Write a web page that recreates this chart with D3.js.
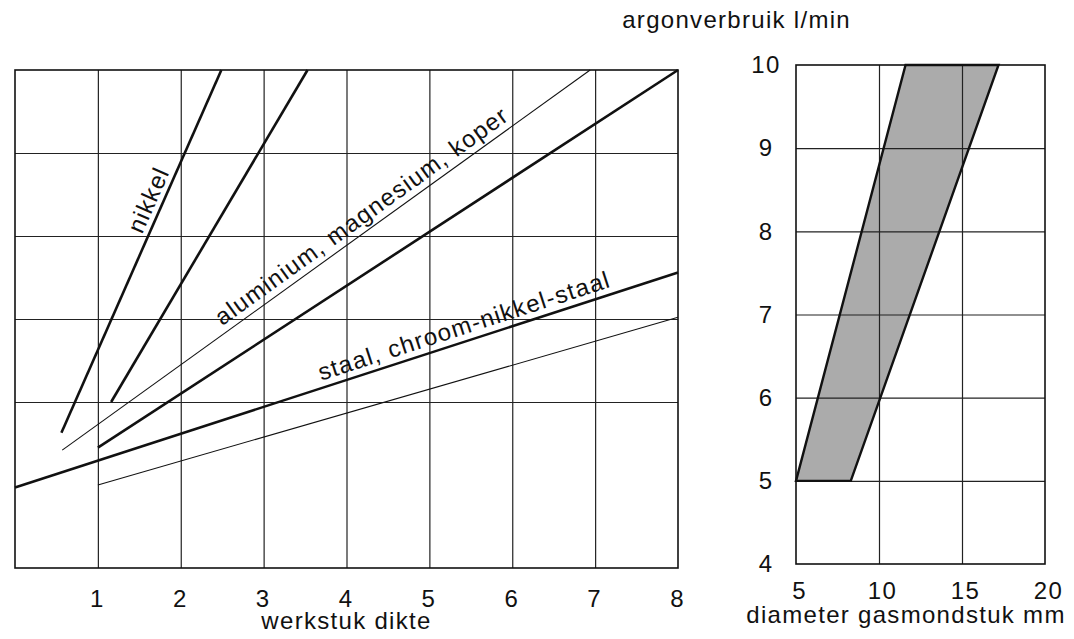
<!DOCTYPE html>
<html>
<head>
  <meta charset="utf-8">
  <title>argonverbruik</title>
  <script src="https://d3js.org/d3.v7.min.js"></script>
  <style>
    body { margin: 0; background: #fff; }
    text { font-family: "Liberation Sans", Arial, Helvetica, sans-serif; font-size: 24px; letter-spacing: 1.3px; fill: #111; }
  </style>
</head>
<body>
<svg width="1074" height="639"></svg>
<script>
  // left panel: werkstuk dikte vs argonverbruik
  var dikteTicks = [1, 2, 3, 4, 5, 6, 7, 8];
  var dikteGridX = [1, 2, 3, 4, 5, 6, 7];
  var dikteGridY = [6, 7, 8, 9];
  var nikkelMax = [[0.56, 5.63], [2.49, 10]];
  var nikkelMin = [[1.16, 6.0], [3.53, 10]];
  var aluMax = [[0.57, 5.42], [6.94, 10]];
  var aluMin = [[1.0, 5.45], [8.0, 10]];
  var staalMax = [[0.0, 4.97], [8.0, 7.56]];
  var staalMin = [[1.0, 5.0], [8.0, 7.02]];

  // right panel: diameter gasmondstuk vs argonverbruik
  var diamTicks = [5, 10, 15, 20];
  var argonTicks = [4, 5, 6, 7, 8, 9, 10];
  var diamGridX = [10, 15];
  var argonGridY = [5, 6, 7, 8, 9];
  var argonBand = [[5, 5], [8.3, 5], [17.2, 10], [11.6, 10]];

  var svg = d3.select("svg");

  var xL = d3.scaleLinear().domain([0, 8]).range([15, 678]);
  var yL = d3.scaleLinear().domain([4, 10]).range([568, 70]);
  var xR = d3.scaleLinear().domain([5, 20]).range([796, 1045]);
  var yR = d3.scaleLinear().domain([4, 10]).range([564, 65]);

  var line = d3.line()
    .x(function(d) { return xL(d[0]); })
    .y(function(d) { return yL(d[1]); });

  // ---- left grid
  var gl = svg.append("g");
  gl.append("g")
    .attr("transform", "translate(0," + yL(4) + ")")
    .call(d3.axisBottom(xL).tickValues(dikteGridX).tickSize(0).tickFormat(""))
    .call(function(g) { g.select(".domain").remove(); })
    .selectAll("line")
    .attr("y2", -(yL(4) - yL(10)))
    .attr("stroke", "#222")
    .attr("stroke-width", 1.2);
  gl.append("g")
    .attr("transform", "translate(" + xL(0) + ",0)")
    .call(d3.axisLeft(yL).tickValues(dikteGridY).tickSize(-(xL(8) - xL(0))).tickFormat(""))
    .call(function(g) { g.select(".domain").remove(); })
    .selectAll("line")
    .attr("stroke", "#222")
    .attr("stroke-width", 1.2);
  gl.append("rect")
    .attr("x", xL(0)).attr("y", yL(10))
    .attr("width", xL(8) - xL(0)).attr("height", yL(4) - yL(10))
    .attr("fill", "none").attr("stroke", "#111").attr("stroke-width", 1.6);

  // x tick labels
  svg.append("g")
    .attr("transform", "translate(-1," + (yL(4) + 22) + ")")
    .call(d3.axisBottom(xL).tickValues(dikteTicks).tickSize(0).tickPadding(0).tickFormat(d3.format("d")))
    .call(function(g) { g.select(".domain").remove(); })
    .selectAll("text")
    .attr("fill", "#111");

  svg.append("text")
    .attr("x", (xL(0) + xL(8)) / 2)
    .attr("y", 629)
    .attr("text-anchor", "middle")
    .text("werkstuk dikte");

  // ---- left lines
  var series = [
    { d: nikkelMax, w: 2.6 },
    { d: nikkelMin, w: 2.6 },
    { d: aluMax, w: 1.1 },
    { d: aluMin, w: 2.6 },
    { d: staalMax, w: 2.6 },
    { d: staalMin, w: 1.1 }
  ];
  svg.selectAll(".mat")
    .data(series)
    .enter()
    .append("path")
    .attr("class", "mat")
    .attr("d", function(s) { return line(s.d); })
    .attr("fill", "none")
    .attr("stroke", "#111")
    .attr("stroke-width", function(s) { return s.w; });

  function lineLabel(pts, xStart, txt, off) {
    var a = pts[0], b = pts[1];
    var t = (xStart - a[0]) / (b[0] - a[0]);
    var yv = a[1] + t * (b[1] - a[1]);
    var ang = Math.atan2(yL(b[1]) - yL(a[1]), xL(b[0]) - xL(a[0])) * 180 / Math.PI;
    svg.append("text")
      .attr("transform", "translate(" + xL(xStart) + "," + yL(yv) + ") rotate(" + ang + ")")
      .attr("y", -off)
      .text(txt);
  }
  lineLabel(nikkelMax, 1.6, "nikkel", 6);
  lineLabel(aluMax, 2.55, "aluminium, magnesium, koper", 7);
  lineLabel(staalMax, 3.72, "staal, chroom-nikkel-staal", 7);

  // ---- right panel
  var gr = svg.append("g");
  gr.append("polygon")
    .attr("points", argonBand.map(function(d) { return xR(d[0]) + "," + yR(d[1]); }).join(" "))
    .attr("fill", "#ababab")
    .attr("stroke", "none");
  gr.append("g")
    .attr("transform", "translate(0," + yR(4) + ")")
    .call(d3.axisBottom(xR).tickValues(diamGridX).tickSize(0).tickFormat(""))
    .call(function(g) { g.select(".domain").remove(); })
    .selectAll("line")
    .attr("y2", -(yR(4) - yR(10)))
    .attr("stroke", "#222")
    .attr("stroke-width", 1.2);
  gr.append("g")
    .attr("transform", "translate(" + xR(5) + ",0)")
    .call(d3.axisLeft(yR).tickValues(argonGridY).tickSize(-(xR(20) - xR(5))).tickFormat(""))
    .call(function(g) { g.select(".domain").remove(); })
    .selectAll("line")
    .attr("stroke", "#222")
    .attr("stroke-width", 1.2);
  gr.append("rect")
    .attr("x", xR(5)).attr("y", yR(10))
    .attr("width", xR(20) - xR(5)).attr("height", yR(4) - yR(10))
    .attr("fill", "none").attr("stroke", "#111").attr("stroke-width", 1.6);
  gr.append("polygon")
    .attr("points", argonBand.map(function(d) { return xR(d[0]) + "," + yR(d[1]); }).join(" "))
    .attr("fill", "none")
    .attr("stroke", "#111")
    .attr("stroke-width", 2.4)
    .attr("stroke-linejoin", "miter");

  // y tick labels
  svg.append("g")
    .attr("transform", "translate(" + (xR(5) - 30) + ",0)")
    .call(d3.axisLeft(yR).tickValues(argonTicks).tickSize(0).tickPadding(0).tickFormat(d3.format("d")))
    .call(function(g) { g.select(".domain").remove(); })
    .selectAll("text")
    .attr("text-anchor", "middle")
    .attr("fill", "#111");

  // x tick labels
  svg.append("g")
    .attr("transform", "translate(3," + (yR(4) + 18) + ")")
    .call(d3.axisBottom(xR).tickValues(diamTicks).tickSize(0).tickPadding(0).tickFormat(d3.format("d")))
    .call(function(g) { g.select(".domain").remove(); })
    .selectAll("text")
    .attr("fill", "#111");

  svg.append("text")
    .attr("x", 906)
    .attr("y", 623)
    .attr("text-anchor", "middle")
    .text("diameter gasmondstuk mm");

  svg.append("text")
    .attr("x", 851)
    .attr("y", 28)
    .attr("text-anchor", "end")
    .text("argonverbruik l/min");
</script>
</body>
</html>
